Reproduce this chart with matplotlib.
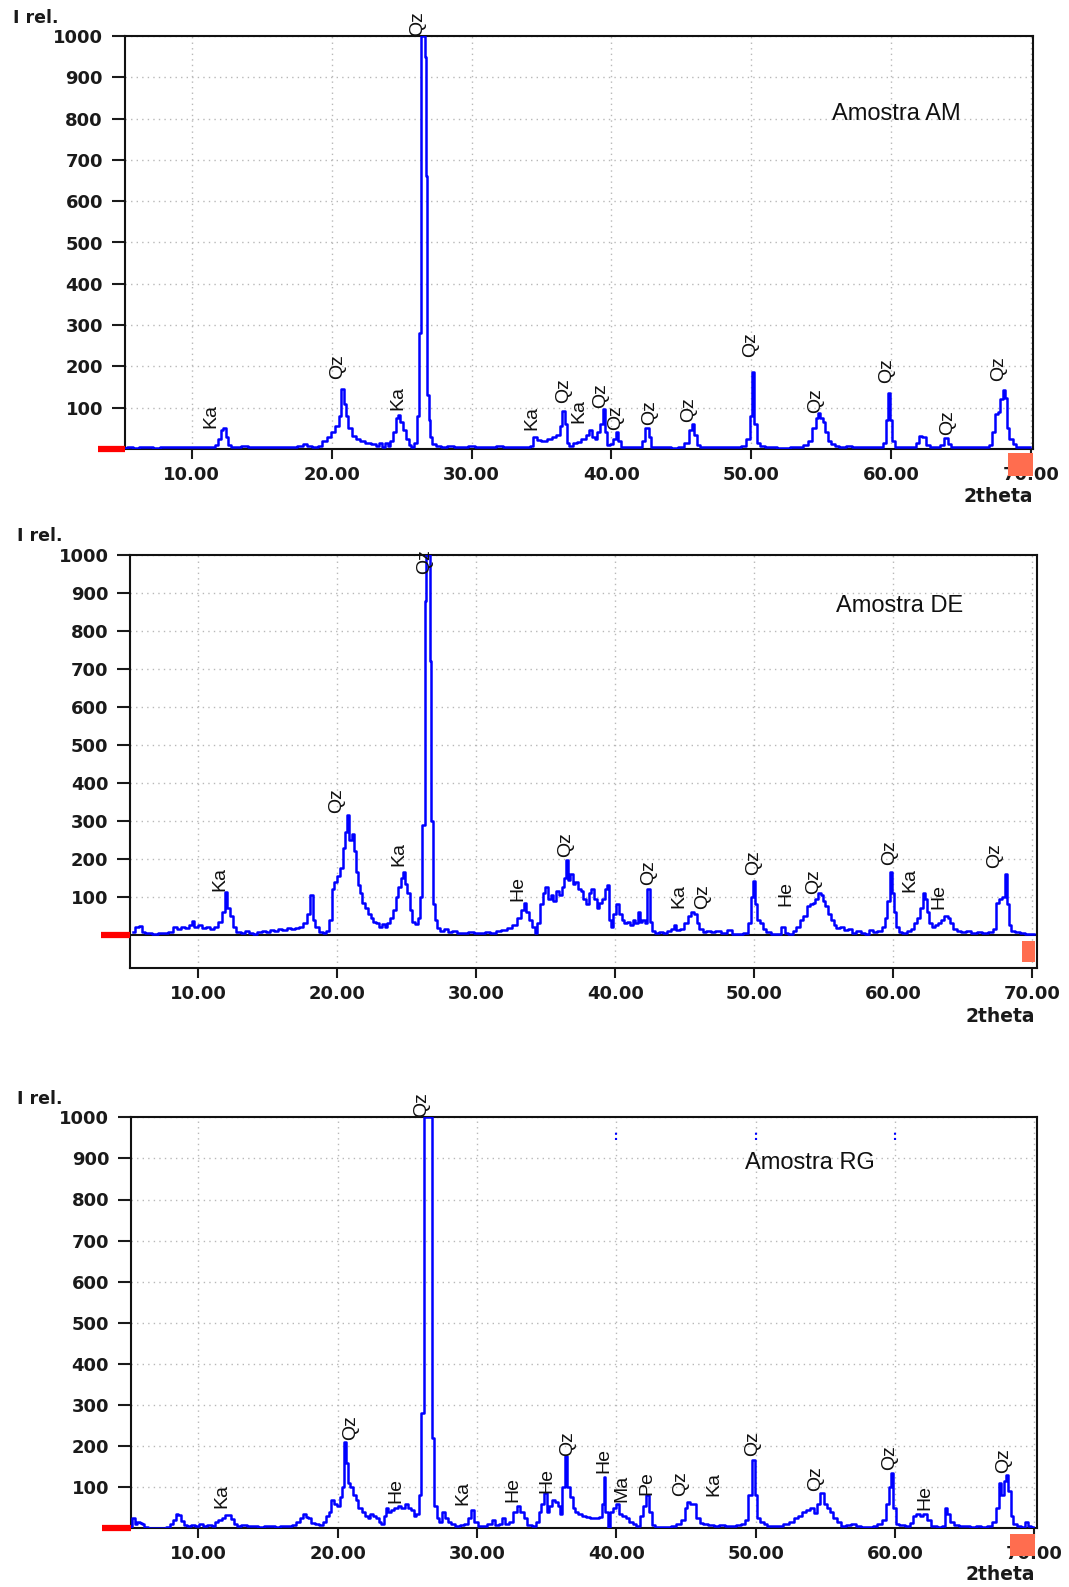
import matplotlib
matplotlib.use('Agg')
import matplotlib.pyplot as plt
from matplotlib.patches import Rectangle

W, H = 1069, 1587

# (2theta, I rel.)
am_pts = [(5.2, 3), (5.6, 6), (6.0, 3), (6.5, 5), (7.0, 4), (7.5, 3), (8.0, 6), (8.5, 5), (9.0, 6),
          (9.5, 5), (10.0, 4), (10.5, 6), (11.0, 5), (11.5, 6), (11.8, 10), (12.0, 25), (12.2, 45),
          (12.35, 50), (12.5, 30), (12.7, 10), (12.9, 6), (13.3, 5), (13.8, 7), (14.3, 5), (14.8, 6),
          (15.3, 5), (15.8, 6), (16.3, 5), (16.8, 6), (17.3, 5), (17.8, 8), (18.1, 12), (18.4, 7),
          (18.8, 5), (19.2, 8), (19.5, 20), (19.8, 30), (20.1, 40), (20.4, 55), (20.6, 80), (20.8, 145),
          (20.95, 110), (21.1, 80), (21.3, 50), (21.6, 32), (21.9, 25), (22.2, 20), (22.6, 15),
          (23.0, 12), (23.3, 8), (23.5, 15), (23.7, 6), (23.9, 14), (24.1, 8), (24.3, 20), (24.5, 40),
          (24.7, 75), (24.85, 82), (25.0, 65), (25.2, 45), (25.4, 25), (25.6, 10), (25.8, 5), (26.0, 15),
          (26.2, 80), (26.35, 280), (26.5, 1000), (26.62, 1000), (26.72, 950), (26.8, 660), (26.88, 130),
          (27.0, 70), (27.1, 30), (27.3, 12), (27.6, 8), (28.0, 5), (28.5, 7), (29.0, 5), (29.5, 6),
          (30.0, 8), (30.5, 5), (31.0, 6), (31.5, 5), (32.0, 7), (32.5, 5), (33.0, 6), (33.5, 4),
          (34.0, 5), (34.3, 8), (34.5, 28), (34.8, 22), (35.2, 20), (35.6, 25), (35.9, 30), (36.2, 35),
          (36.4, 55), (36.6, 92), (36.75, 60), (36.9, 15), (37.1, 8), (37.4, 15), (37.7, 18), (38.0, 25),
          (38.3, 35), (38.5, 45), (38.7, 30), (38.9, 25), (39.1, 40), (39.3, 60), (39.45, 98), (39.6, 40),
          (39.8, 10), (40.0, 12), (40.2, 25), (40.4, 40), (40.55, 20), (40.8, 6), (41.2, 5), (41.6, 4),
          (42.0, 6), (42.3, 20), (42.55, 52), (42.75, 30), (42.95, 5), (43.5, 4), (44.0, 5), (44.5, 3),
          (45.0, 5), (45.4, 15), (45.65, 45), (45.8, 60), (46.0, 35), (46.2, 10), (46.5, 5), (47.0, 4),
          (47.5, 5), (48.0, 6), (48.5, 4), (49.0, 5), (49.5, 8), (49.8, 25), (50.0, 80), (50.15, 186),
          (50.3, 60), (50.5, 15), (50.8, 8), (51.2, 5), (51.6, 4), (52.0, 3), (52.5, 3), (53.0, 4),
          (53.5, 6), (53.9, 10), (54.2, 20), (54.5, 50), (54.7, 75), (54.85, 88), (55.0, 75), (55.2, 65),
          (55.4, 40), (55.6, 20), (55.8, 12), (56.1, 8), (56.5, 6), (57.0, 8), (57.4, 6), (57.8, 5),
          (58.2, 4), (58.6, 5), (59.0, 4), (59.3, 6), (59.5, 15), (59.7, 70), (59.87, 136), (60.0, 70),
          (60.15, 20), (60.4, 6), (60.8, 4), (61.2, 5), (61.6, 5), (61.9, 15), (62.1, 31), (62.35, 28),
          (62.6, 10), (62.9, 4), (63.3, 4), (63.6, 10), (63.9, 27), (64.15, 12), (64.4, 4), (64.8, 4),
          (65.3, 5), (65.8, 4), (66.3, 5), (66.8, 4), (67.1, 10), (67.3, 40), (67.5, 85), (67.7, 90),
          (67.9, 120), (68.05, 142), (68.2, 124), (68.35, 50), (68.55, 25), (68.8, 12), (69.1, 5),
          (69.5, 4), (69.9, 4)]

de_pts = [(5.3, 8), (5.6, 20), (5.85, 24), (6.0, 8), (6.4, 5), (6.9, 3), (7.3, 5), (7.7, 4), (8.0, 8),
          (8.3, 20), (8.6, 15), (8.9, 22), (9.2, 18), (9.5, 25), (9.65, 37), (9.8, 20), (10.1, 25),
          (10.4, 18), (10.7, 22), (11.0, 15), (11.3, 20), (11.6, 35), (11.8, 60), (12.0, 113),
          (12.15, 70), (12.35, 50), (12.6, 22), (12.9, 8), (13.2, 5), (13.5, 10), (13.8, 5), (14.1, 3),
          (14.4, 8), (14.7, 10), (15.0, 8), (15.3, 12), (15.6, 10), (15.9, 15), (16.2, 12), (16.5, 18),
          (16.8, 15), (17.1, 18), (17.4, 20), (17.7, 30), (17.95, 55), (18.15, 104), (18.3, 40),
          (18.5, 20), (18.8, 8), (19.1, 5), (19.3, 10), (19.5, 40), (19.7, 120), (19.9, 140),
          (20.1, 155), (20.3, 175), (20.5, 230), (20.65, 270), (20.8, 315), (20.95, 250), (21.1, 265),
          (21.25, 220), (21.4, 165), (21.55, 130), (21.7, 110), (21.9, 85), (22.1, 70), (22.3, 55),
          (22.5, 45), (22.7, 35), (22.9, 30), (23.1, 22), (23.3, 28), (23.5, 22), (23.7, 30), (23.9, 45),
          (24.1, 65), (24.3, 100), (24.5, 125), (24.7, 150), (24.8, 165), (24.95, 135), (25.1, 110),
          (25.3, 65), (25.5, 35), (25.7, 28), (25.85, 45), (26.0, 100), (26.2, 290), (26.35, 880),
          (26.45, 1000), (26.6, 1000), (26.7, 720), (26.8, 300), (26.95, 80), (27.1, 40), (27.3, 18),
          (27.5, 10), (27.8, 15), (28.1, 8), (28.4, 10), (28.8, 6), (29.2, 5), (29.6, 8), (30.0, 4),
          (30.4, 5), (30.8, 8), (31.2, 6), (31.6, 10), (32.0, 12), (32.4, 18), (32.8, 25), (33.1, 45),
          (33.3, 65), (33.5, 85), (33.7, 60), (33.9, 40), (34.1, 20), (34.3, 5), (34.5, 30), (34.7, 80),
          (34.85, 110), (35.05, 125), (35.25, 95), (35.45, 105), (35.65, 90), (35.85, 115), (36.05, 105),
          (36.25, 125), (36.4, 150), (36.55, 196), (36.7, 145), (36.85, 160), (37.0, 135), (37.2, 140),
          (37.4, 120), (37.6, 115), (37.8, 95), (38.0, 80), (38.2, 110), (38.35, 120), (38.55, 95),
          (38.75, 70), (38.95, 85), (39.15, 95), (39.35, 120), (39.5, 130), (39.6, 40), (39.75, 20),
          (39.95, 55), (40.15, 80), (40.35, 55), (40.55, 40), (40.75, 30), (40.95, 35), (41.15, 25),
          (41.35, 40), (41.55, 30), (41.7, 60), (41.85, 35), (42.05, 40), (42.2, 30), (42.4, 120),
          (42.55, 35), (42.75, 10), (43.0, 5), (43.3, 8), (43.6, 5), (43.9, 10), (44.1, 15), (44.3, 25),
          (44.5, 12), (44.8, 15), (45.1, 30), (45.3, 50), (45.55, 60), (45.75, 55), (45.95, 30),
          (46.15, 15), (46.4, 8), (46.7, 10), (47.0, 8), (47.4, 10), (47.8, 6), (48.2, 12), (48.6, 3),
          (49.0, 2), (49.4, 5), (49.7, 30), (49.85, 100), (50.0, 143), (50.15, 80), (50.3, 40),
          (50.5, 30), (50.7, 15), (51.0, 8), (51.4, 2), (51.8, 3), (52.05, 20), (52.3, 5), (52.6, 3),
          (52.9, 10), (53.1, 20), (53.4, 40), (53.65, 50), (53.9, 75), (54.1, 80), (54.3, 85), (54.5, 95),
          (54.7, 110), (54.85, 105), (55.0, 90), (55.2, 75), (55.4, 55), (55.6, 40), (55.8, 25),
          (56.0, 18), (56.3, 20), (56.6, 12), (56.9, 15), (57.2, 5), (57.5, 10), (57.8, 5), (58.1, 3),
          (58.4, 12), (58.7, 8), (59.0, 10), (59.3, 20), (59.5, 45), (59.65, 90), (59.8, 165),
          (59.95, 110), (60.1, 60), (60.25, 20), (60.5, 8), (60.8, 5), (61.1, 10), (61.4, 15), (61.6, 30),
          (61.8, 45), (62.0, 70), (62.2, 110), (62.35, 95), (62.5, 60), (62.7, 30), (62.9, 20),
          (63.1, 25), (63.35, 30), (63.55, 40), (63.8, 50), (64.0, 45), (64.2, 30), (64.4, 15),
          (64.7, 10), (65.0, 8), (65.4, 10), (65.8, 6), (66.2, 8), (66.6, 6), (67.0, 8), (67.3, 15),
          (67.5, 85), (67.7, 95), (67.9, 100), (68.1, 160), (68.25, 80), (68.4, 25), (68.6, 10),
          (68.9, 8), (69.3, 6), (69.7, 3), (70.1, 3)]

rg_pts = [(5.2, 3), (5.35, 25), (5.5, 10), (5.7, 15), (5.9, 12), (6.05, 10), (6.2, 2), (6.6, 0), (7.0, 0),
          (7.5, 0), (7.9, 2), (8.1, 10), (8.3, 20), (8.45, 35), (8.65, 33), (8.85, 18), (9.05, 8),
          (9.3, 5), (9.6, 8), (9.9, 5), (10.2, 10), (10.5, 6), (10.8, 8), (11.1, 5), (11.3, 15),
          (11.55, 20), (11.8, 25), (12.0, 33), (12.2, 33), (12.45, 22), (12.7, 10), (12.9, 5), (13.3, 8),
          (13.7, 5), (14.1, 6), (14.5, 4), (14.9, 6), (15.3, 5), (15.7, 4), (16.1, 6), (16.5, 5),
          (16.9, 7), (17.15, 15), (17.4, 25), (17.6, 35), (17.8, 28), (18.0, 25), (18.25, 12),
          (18.5, 10), (18.8, 8), (19.1, 15), (19.3, 30), (19.45, 40), (19.65, 70), (19.85, 60),
          (20.05, 55), (20.25, 75), (20.4, 100), (20.55, 210), (20.7, 160), (20.85, 110), (21.0, 100),
          (21.2, 80), (21.4, 70), (21.6, 50), (21.85, 40), (22.05, 30), (22.25, 25), (22.45, 35),
          (22.65, 30), (22.85, 25), (23.05, 15), (23.2, 10), (23.4, 30), (23.55, 50), (23.75, 40),
          (23.95, 45), (24.2, 50), (24.45, 55), (24.7, 50), (24.95, 58), (25.15, 50), (25.35, 45),
          (25.55, 30), (25.75, 35), (25.9, 80), (26.1, 280), (26.3, 1000), (26.7, 1000), (26.85, 220),
          (27.0, 55), (27.2, 25), (27.4, 15), (27.6, 40), (27.8, 25), (28.0, 15), (28.3, 10), (28.6, 5),
          (28.9, 8), (29.2, 10), (29.5, 25), (29.7, 45), (29.9, 15), (30.2, 5), (30.6, 5), (30.9, 10),
          (31.2, 20), (31.45, 8), (31.7, 10), (31.95, 25), (32.15, 10), (32.45, 15), (32.75, 40),
          (33.0, 55), (33.25, 40), (33.5, 25), (33.75, 8), (34.1, 5), (34.35, 15), (34.55, 40),
          (34.7, 60), (34.9, 85), (35.1, 40), (35.3, 55), (35.5, 70), (35.7, 65), (35.9, 55), (36.05, 35),
          (36.2, 100), (36.4, 175), (36.6, 100), (36.8, 75), (36.95, 50), (37.15, 40), (37.4, 35),
          (37.7, 30), (38.0, 28), (38.3, 25), (38.6, 25), (38.9, 28), (39.05, 60), (39.15, 125),
          (39.3, 40), (39.45, 0), (39.65, 40), (39.85, 50), (40.05, 60), (40.3, 35), (40.55, 30),
          (40.8, 25), (41.05, 15), (41.3, 10), (41.55, 5), (41.8, 30), (42.05, 55), (42.25, 80),
          (42.45, 40), (42.65, 8), (42.9, 2), (43.3, 2), (43.7, 3), (44.1, 5), (44.5, 10), (44.8, 20),
          (45.0, 50), (45.2, 65), (45.45, 60), (45.65, 60), (45.85, 25), (46.1, 12), (46.4, 10),
          (46.8, 8), (47.2, 5), (47.6, 8), (48.0, 5), (48.4, 6), (48.8, 8), (49.1, 10), (49.35, 20),
          (49.6, 80), (49.85, 165), (50.0, 80), (50.2, 25), (50.45, 15), (50.7, 10), (51.0, 6),
          (51.4, 5), (51.8, 6), (52.2, 10), (52.6, 15), (52.9, 25), (53.2, 30), (53.5, 40), (53.8, 45),
          (54.05, 50), (54.3, 38), (54.5, 60), (54.75, 85), (55.0, 60), (55.2, 50), (55.45, 40),
          (55.7, 25), (56.0, 15), (56.3, 5), (56.7, 8), (57.0, 10), (57.4, 5), (57.8, 3), (58.2, 4),
          (58.6, 6), (58.9, 10), (59.2, 20), (59.45, 60), (59.7, 100), (59.8, 135), (59.95, 50),
          (60.15, 10), (60.5, 8), (60.9, 5), (61.2, 12), (61.4, 30), (61.65, 35), (61.9, 30), (62.15, 35),
          (62.45, 20), (62.8, 5), (63.2, 3), (63.5, 5), (63.65, 50), (63.85, 35), (64.1, 15), (64.4, 8),
          (64.8, 5), (65.2, 6), (65.6, 4), (66.0, 6), (66.4, 4), (66.8, 5), (67.15, 15), (67.35, 50),
          (67.55, 110), (67.75, 80), (67.95, 115), (68.05, 130), (68.2, 90), (68.4, 30), (68.6, 10),
          (68.9, 5), (69.2, 4), (69.45, 15), (69.6, 5), (69.9, 3)]

# phase labels: (text, 2theta, bottom of label in I rel.)
am_labels = [("Ka", 11.4, 50), ("Qz", 20.4, 170), ("Ka", 24.73, 94), ("Qz", 26.13, 1000),
             ("Ka", 34.3, 45), ("Qz", 36.6, 111), ("Ka", 37.7, 62), ("Qz", 39.2, 100),
             ("Qz", 40.3, 45), ("Qz", 42.75, 58), ("Qz", 45.55, 66), ("Qz", 49.92, 223),
             ("Qz", 54.58, 87), ("Qz", 59.69, 161), ("Qz", 64.0, 33), ("Qz", 67.67, 165)]
de_labels = [("Ka", 11.57, 116), ("Qz", 19.98, 322), ("Ka", 24.44, 182), ("Qz", 26.3, 950),
             ("He", 33.0, 90), ("Qz", 36.45, 205), ("Qz", 42.38, 130), ("Ka", 44.6, 72),
             ("Qz", 46.3, 67), ("Qz", 49.93, 157), ("He", 52.3, 76), ("Qz", 54.3, 108),
             ("Qz", 59.74, 184), ("Ka", 61.2, 112), ("He", 63.3, 67), ("Qz", 67.3, 175)]
rg_labels = [("Ka", 11.68, 49), ("Qz", 20.9, 216), ("He", 24.18, 61), ("Qz", 26.06, 1000),
             ("Ka", 29.0, 57), ("He", 32.59, 65), ("He", 35.03, 86), ("Qz", 36.5, 175),
             ("He", 39.1, 135), ("Ma", 40.43, 65), ("Pe", 42.23, 82), ("Qz", 44.63, 78),
             ("Ka", 47.03, 78), ("Qz", 49.78, 176), ("Qz", 54.3, 90), ("Qz", 59.62, 143),
             ("He", 62.13, 45), ("Qz", 67.77, 135)]

rg_marks_x = [40.0, 50.0, 60.0]
rg_marks_y = [945, 970]

y_ticks = list(range(100, 1001, 100))
x_ticks = [10, 20, 30, 40, 50, 60, 70]

LBL = ['Liberation Sans', 'DejaVu Sans']
TCK = dict(family='DejaVu Sans', weight='bold', size=13)

fig = plt.figure(figsize=(W / 100, H / 100), dpi=100)


def px_axes(l, t, r, b):
    return fig.add_axes([l / W, 1 - b / H, (r - l) / W, (b - t) / H])


def draw_panel(ax, pts, labels, title, title_xy, xlim, ylim, red_x, sq):
    x = [p[0] for p in pts]
    y = [p[1] for p in pts]
    ax.plot(x, y, color='#0000ff', lw=1.8, drawstyle='steps-mid', zorder=3)
    ax.set_xlim(xlim)
    ax.set_ylim(ylim)
    ax.set_xticks(x_ticks)
    ax.set_xticklabels(['%.2f' % v for v in x_ticks], **TCK)
    ax.set_yticks(y_ticks)
    ax.set_yticklabels([str(v) for v in y_ticks], **TCK)
    ax.tick_params(axis='y', direction='out', length=9.5, width=1.5, pad=6, colors='#1a1a1a')
    ax.tick_params(axis='x', direction='out', length=7, width=1.5, pad=5, colors='#1a1a1a')
    ax.grid(True, linestyle=(0, (1, 3)), color='#b8b8b8', lw=1)
    ax.set_axisbelow(True)
    for s in ax.spines.values():
        s.set_linewidth(1.5)
        s.set_color('#111111')
    for txt, xx, yy in labels:
        ax.text(xx, yy, txt, rotation=90, ha='center', va='bottom', fontsize=14,
                family=LBL, color='#111111', clip_on=False, zorder=4)
    ax.text(title_xy[0], title_xy[1], title, ha='left', va='center', fontsize=17,
            family=LBL, color='#111111')
    # red zero marker left of the axis
    ax.plot([red_x, 0], [0, 0], color='#ff0000', lw=4.5, solid_capstyle='butt',
            transform=ax.get_yaxis_transform(), clip_on=False, zorder=5)
    ax.add_patch(Rectangle((sq[0], sq[1]), sq[2], sq[3], transform=ax.transAxes,
                           facecolor='#ff6d4f', edgecolor='none', clip_on=False, zorder=6))


ax1 = px_axes(124.5, 36, 1033, 449)
draw_panel(ax1, am_pts, am_labels, 'Amostra AM', (55.8, 812), (5.2, 70.13), (0, 1000),
           -0.029, (0.9725, -0.065, 0.0275, 0.056))

ax2 = px_axes(130, 555, 1036.8, 968.3)
draw_panel(ax2, de_pts, de_labels, 'Amostra DE', (55.9, 867), (5.09, 70.32), (-88, 1000),
           -0.032, (0.984, 0.015, 0.014, 0.051))
ax2.axhline(0, color='#111111', lw=1.5, zorder=2)

ax3 = px_axes(130.7, 1117.3, 1037.3, 1528.3)
draw_panel(ax3, rg_pts, rg_labels, 'Amostra RG', (49.25, 888), (5.15, 70.22), (0, 1000),
           -0.032, (0.970, -0.067, 0.027, 0.054))
for mx in rg_marks_x:
    ax3.plot([mx, mx], rg_marks_y, color='#0000ff', lw=1.5, linestyle=(0, (1, 1.5)), zorder=3)

# axis captions
for ix, iy, tx, ty in [(13, 23, 1033, 497), (17, 541, 1035, 1016), (17, 1104, 1035, 1575)]:
    fig.text(ix / W, 1 - iy / H, 'I rel.', ha='left', va='baseline', fontsize=12.5,
             family='DejaVu Sans', weight='bold', color='#1a1a1a')
    fig.text(tx / W, 1 - ty / H, '2theta', ha='right', va='center', fontsize=13.5,
             family='DejaVu Sans', weight='bold', color='#1a1a1a')

fig.savefig('out.png', dpi=100)
